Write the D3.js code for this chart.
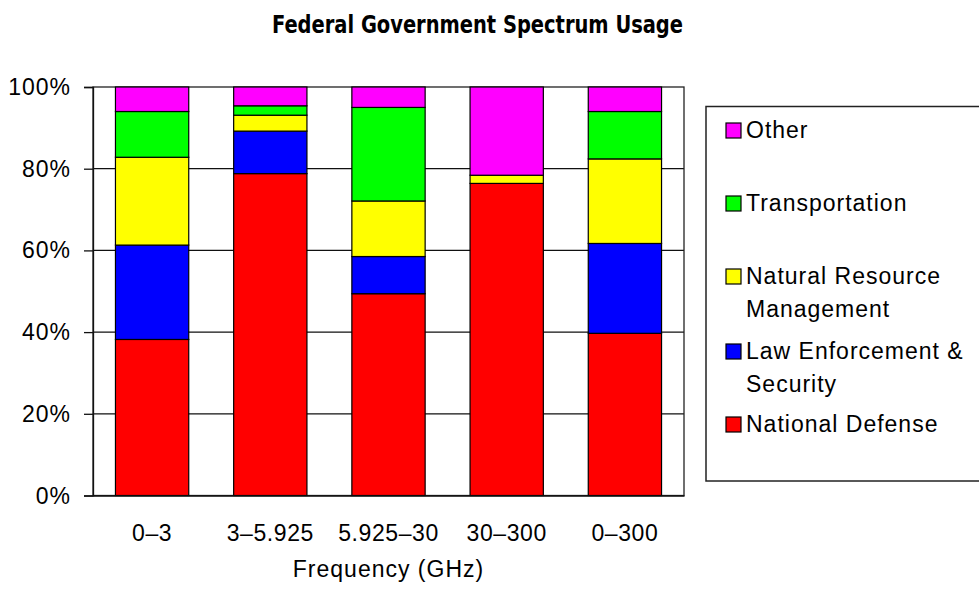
<!DOCTYPE html>
<html>
<head>
<meta charset="utf-8">
<script src="https://cdn.jsdelivr.net/npm/d3@7/dist/d3.min.js"></script>
<style>
  body { margin: 0; background: #fff; }
  text { font-family: "Liberation Sans", Arial, sans-serif; fill: #000; }
</style>
</head>
<body>
<svg id="chart"></svg>
<script>
// data (percent of each band)
var categories = ["0\u20133", "3\u20135.925", "5.925\u201330", "30\u2013300", "0\u2013300"]
var defense = [38.2, 78.8, 49.4, 76.4, 39.7]
var lawEnforcement = [23.1, 10.4, 9.1, 0, 22.0]
var naturalResource = [21.5, 3.9, 13.6, 2.0, 20.7]
var transportation = [11.2, 2.3, 22.9, 0, 11.6]
var other = [6.0, 4.6, 5.0, 21.6, 6.0]
var yTicks = [0, 20, 40, 60, 80, 100]

var keys = ["defense", "law", "natural", "transport", "other"]
var colors = {
    defense: "#ff0000",
    law: "#0000ff",
    natural: "#ffff00",
    transport: "#00ff00",
    other: "#ff00ff"
}
// legend goes top-down, reverse of stack order
var legendItems = [
    { key: "other", lines: ["Other"], y: 130 },
    { key: "transport", lines: ["Transportation"], y: 203 },
    { key: "natural", lines: ["Natural Resource", "Management"], y: 276 },
    { key: "law", lines: ["Law Enforcement &", "Security"], y: 351 },
    { key: "defense", lines: ["National Defense"], y: 424 }
]

var rows = categories.map(function (c, i) {
    return {
        cat: c,
        defense: defense[i],
        law: lawEnforcement[i],
        natural: naturalResource[i],
        transport: transportation[i],
        other: other[i]
    }
})

var width = 979,
    height = 593
// note: "top" is taken by window.top, so use other names
var plotLeft = 93, plotRight = 684, plotTop = 87, plotBottom = 495.5

var svg = d3.select("#chart")
    .attr("width", width)
    .attr("height", height)

var x = d3.scaleBand()
    .domain(categories)
    .range([plotLeft, plotRight])
    .paddingInner(0.38)
    .paddingOuter(0.19)

var y = d3.scaleLinear()
    .domain([0, 100])
    .range([plotBottom, plotTop])

// title
svg.append("text")
    .attr("x", 477.5)
    .attr("y", 33)
    .attr("text-anchor", "middle")
    .attr("textLength", 411)
    .attr("lengthAdjust", "spacingAndGlyphs")
    .style("font-family", "'Liberation Sans Narrow', 'DejaVu Sans Condensed', sans-serif")
    .style("font-weight", "bold")
    .style("font-size", "24px")
    .text("Federal Government Spectrum Usage")

// gridlines behind the bars
svg.append("g")
    .selectAll("line")
    .data(yTicks.slice(1, 5))
    .enter().append("line")
    .attr("x1", plotLeft)
    .attr("x2", plotRight)
    .attr("y1", function (d) { return y(d) })
    .attr("y2", function (d) { return y(d) })
    .attr("stroke", "#111")
    .attr("stroke-width", 1.3)

// plot frame
svg.append("rect")
    .attr("x", plotLeft)
    .attr("y", plotTop)
    .attr("width", plotRight - plotLeft)
    .attr("height", plotBottom - plotTop)
    .attr("fill", "none")
    .attr("stroke", "#222")
    .attr("stroke-width", 1.3)

var stack = d3.stack().keys(keys)
var series = stack(rows)

svg.append("g")
    .selectAll("g")
    .data(series)
    .enter().append("g")
    .attr("fill", function (d) { return colors[d.key] })
    .selectAll("rect")
    .data(function (d) { return d })
    .enter().append("rect")
    .attr("x", function (d) { return x(d.data.cat) })
    .attr("y", function (d) { return y(d[1]) })
    .attr("width", x.bandwidth())
    .attr("height", function (d) { return y(d[0]) - y(d[1]) })
    .attr("stroke", "#000")
    .attr("stroke-width", 1.2)

// y axis
var yAxis = d3.axisLeft(y)
    .tickValues(yTicks)
    .tickFormat(function (d) { return d + "%" })
    .tickSize(9)
    .tickPadding(13)
var gy = svg.append("g")
    .attr("transform", "translate(" + plotLeft + ",0)")
    .call(yAxis)
gy.select(".domain").attr("stroke", "#111").attr("stroke-width", 1.3)
gy.selectAll(".tick line").attr("stroke", "#111").attr("stroke-width", 1.3)
gy.selectAll(".tick text")
    .attr("dy", "7.5")
    .style("font-size", "23px")
    .style("font-family", "'Liberation Sans', Arial, sans-serif")
    .style("letter-spacing", "1px")
    .attr("fill", "#000")

// x axis, no tick marks
var xAxis = d3.axisBottom(x)
    .tickSize(0)
    .tickPadding(0)
var gx = svg.append("g")
    .attr("transform", "translate(0," + plotBottom + ")")
    .call(xAxis)
gx.select(".domain").attr("stroke", "#111").attr("stroke-width", 1.3)
gx.selectAll(".tick text")
    .attr("y", 45)
    .attr("dy", 0)
    .style("font-size", "23px")
    .style("font-family", "'Liberation Sans', Arial, sans-serif")
    .style("letter-spacing", "0.6px")
    .attr("fill", "#000")

svg.append("text")
    .attr("x", (plotLeft + plotRight) / 2)
    .attr("y", 577)
    .attr("text-anchor", "middle")
    .style("font-size", "23px")
    .style("letter-spacing", "1px")
    .text("Frequency (GHz)")

// legend box
var legend = svg.append("g")
legend.append("rect")
    .attr("x", 706)
    .attr("y", 106.5)
    .attr("width", 290)
    .attr("height", 374.5)
    .attr("fill", "#fff")
    .attr("stroke", "#222")
    .attr("stroke-width", 1.5)

var item = legend.selectAll("g.item")
    .data(legendItems)
    .enter().append("g")
    .attr("class", "item")
    .attr("transform", function (d) { return "translate(726," + d.y + ")" })

item.append("rect")
    .attr("x", 0)
    .attr("y", -7)
    .attr("width", 15)
    .attr("height", 15)
    .attr("fill", function (d) { return colors[d.key] })
    .attr("stroke", "#000")
    .attr("stroke-width", 1.2)

item.append("text")
    .attr("x", 20)
    .attr("y", 8)
    .style("font-size", "23px")
    .style("letter-spacing", "1px")
    .selectAll("tspan")
    .data(function (d) { return d.lines })
    .enter().append("tspan")
    .attr("x", 20)
    .attr("dy", function (d, i) { return i == 0 ? 0 : 33 })
    .text(function (d) { return d })
</script>
</body>
</html>
